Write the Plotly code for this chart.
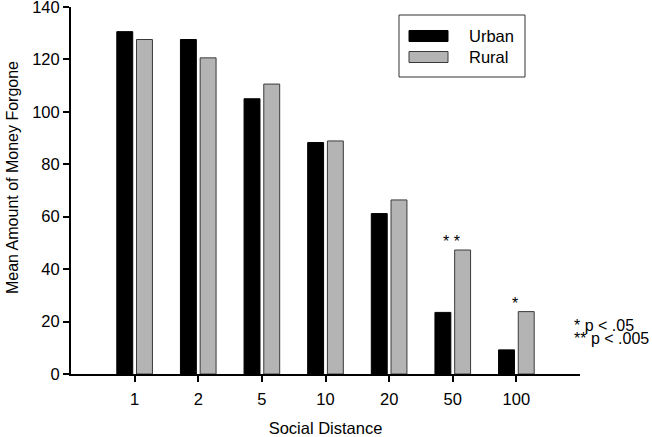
import plotly.graph_objects as go

# ---- data ----
social_distance = ["1", "2", "5", "10", "20", "50", "100"]
urban = [130.6, 127.6, 105.0, 88.3, 61.2, 23.5, 9.2]
rural = [127.6, 120.6, 110.6, 88.9, 66.4, 47.3, 23.8]
series_names = ["Urban", "Rural"]
y_ticks = [0, 20, 40, 60, 80, 100, 120, 140]
sig_marks = {"50": "* *", "100": "*"}
footnotes = ["* p < .05", "** p < .005"]

FONT = "Arial, Liberation Sans, Helvetica, sans-serif"
W, H = 652, 437
L, R, T, B = 71, 580, 7, 374  # plot area pixel box


def px(x):
    return (x - L) / (R - L)


def py(y):
    return (B - y) / (B - T)


fig = go.Figure()
fig.add_trace(go.Bar(
    x=social_distance, y=urban, name=series_names[0],
    marker=dict(color="#000000", line=dict(color="#000000", width=1)),
    width=0.25, offset=-0.28, showlegend=False,
))
fig.add_trace(go.Bar(
    x=social_distance, y=rural, name=series_names[1],
    marker=dict(color="#b4b4b4", line=dict(color="#3a3a3a", width=1)),
    width=0.25, offset=0.03, showlegend=False,
))

# significance marks above bars
for cat, txt in sig_marks.items():
    i = social_distance.index(cat)
    fig.add_annotation(x=i, y=rural[i], text=txt, showarrow=False,
                       xref="x", yref="y", yanchor="bottom", yshift=-2, xshift=-1,
                       font=dict(family=FONT, size=16, color="#000"))

# footnotes
for k, txt in enumerate(footnotes):
    fig.add_annotation(x=px(572), y=py(325 + 13.5 * k), xref="paper", yref="paper",
                       text=txt, showarrow=False, xanchor="left", yanchor="middle",
                       font=dict(family=FONT, size=16, color="#000"))

# manual legend (box, swatches, labels)
fig.add_shape(type="rect", xref="paper", yref="paper",
              x0=px(399), x1=px(525), y0=py(77), y1=py(15),
              line=dict(color="#333333", width=1), fillcolor="white", layer="above")
sw = [("#000000", "#000000", 30.5, 41.5, 36), ("#b4b4b4", "#3a3a3a", 51.5, 62.5, 57)]
for (fc, lc, y0, y1, ty), name in zip(sw, series_names):
    fig.add_shape(type="rect", xref="paper", yref="paper",
                  x0=px(409), x1=px(448), y0=py(y1), y1=py(y0),
                  line=dict(color=lc, width=1), fillcolor=fc, layer="above")
    fig.add_annotation(x=px(467), y=py(ty), xref="paper", yref="paper", text=name,
                       showarrow=False, xanchor="left", yanchor="middle",
                       font=dict(family=FONT, size=16.5, color="#000"))

# y-axis title
fig.add_annotation(x=px(12), y=py(178), xref="paper", yref="paper",
                   text="Mean Amount of Money Forgone", textangle=-90, showarrow=False,
                   xanchor="center", yanchor="middle",
                   font=dict(family=FONT, size=16, color="#000"))

fig.update_layout(
    width=W, height=H,
    margin=dict(l=L, r=W - R, t=T, b=H - B, pad=0, autoexpand=False),
    paper_bgcolor="white", plot_bgcolor="white",
    font=dict(family=FONT, size=16, color="#000"),
    showlegend=False,
    barmode="group",
)
fig.update_xaxes(
    type="category", range=[-1, 7], showline=True, linecolor="#000", linewidth=2,
    ticks="outside", ticklen=6, tickwidth=1.5, tickcolor="#000",
    showgrid=False, zeroline=False, ticklabelstandoff=3, automargin=False,
    tickfont=dict(family=FONT, size=16.5),
    title=dict(text="Social Distance", font=dict(family=FONT, size=16.5), standoff=21),
)
fig.update_yaxes(
    range=[0, 140], tickvals=y_ticks, showline=True, linecolor="#000", linewidth=2,
    ticks="outside", ticklen=6, tickwidth=1.5, tickcolor="#000",
    showgrid=False, zeroline=False, ticklabeloverflow="allow", automargin=False,
    tickfont=dict(family=FONT, size=16.5),
)

fig.write_html("out.html", config={"displayModeBar": False},
               post_script="document.body.style.margin='0px';")
